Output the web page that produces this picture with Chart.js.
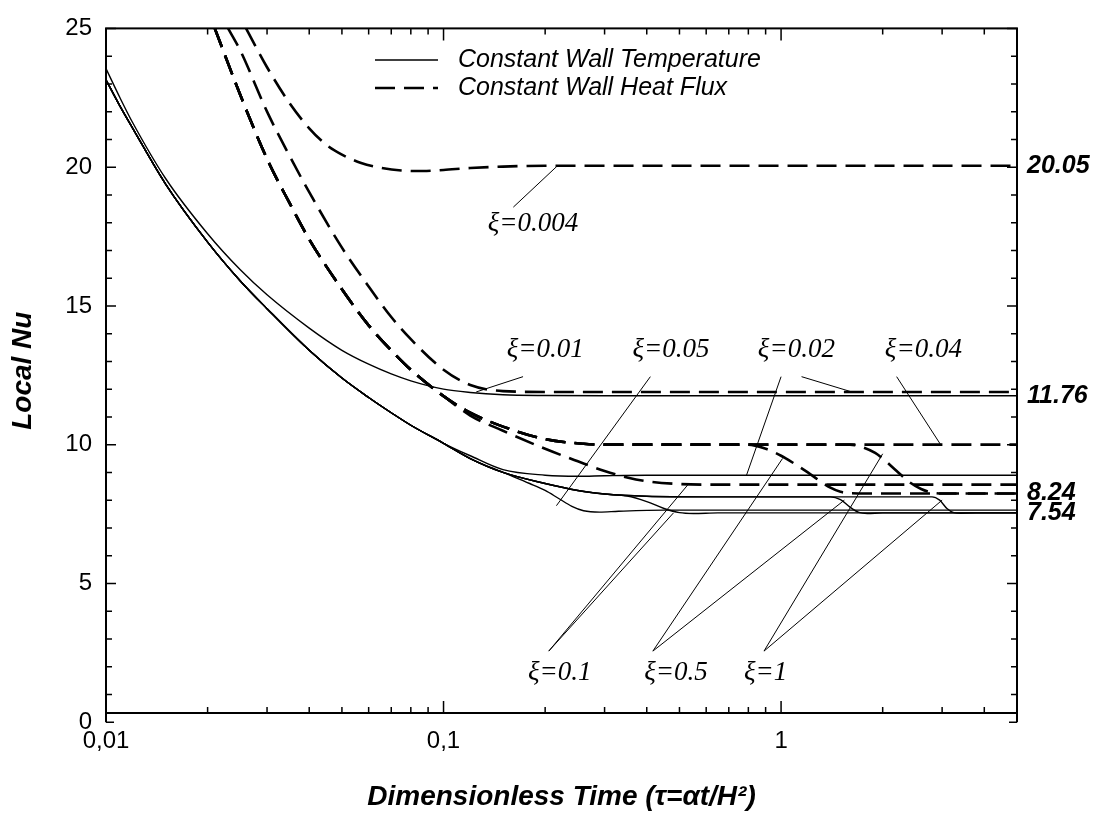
<!DOCTYPE html>
<html>
<head>
<meta charset="utf-8">
<title>Local Nu</title>
<script src="https://cdn.jsdelivr.net/npm/chart.js@4.4.1/dist/chart.umd.min.js"></script>
<style>
  html, body { margin: 0; padding: 0; background: #fff; }
  #nuChart { display: block; }
</style>
</head>
<body>
<canvas id="nuChart" width="1101" height="816"></canvas>
<script>
// Axis ranges and tick values
const tauMin = 0.01;
const tauMax = 5;
const nuMin = 0.33;
const nuMax = 25;
const xMajorTicks = [0.01, 0.1, 1];
const xTickLabels = ['0,01', '0,1', '1'];
const xMinorTicks = [0.02, 0.03, 0.04, 0.05, 0.06, 0.07, 0.08, 0.09, 0.2, 0.3, 0.4, 0.5, 0.6, 0.7, 0.8, 0.9, 2, 3, 4];
const yMajorTicks = [0, 5, 10, 15, 20, 25];
const yMinorTicks = [1, 2, 3, 4, 6, 7, 8, 9, 11, 12, 13, 14, 16, 17, 18, 19, 21, 22, 23, 24];
const limitTicks = [20.05, 11.76, 8.24, 7.54];
const limitLabels = ['20.05', '11.76', '8.24', '7.54'];

// Constant wall temperature (solid)
const tauT001 = [0.01, 0.011, 0.012, 0.015, 0.02, 0.025, 0.03, 0.04, 0.05, 0.06, 0.07, 0.08, 0.1, 0.12, 0.15, 0.2, 0.3, 5];
const nuT001 = [23.55, 22.5, 21.6, 19.6, 17.6, 16.3, 15.4, 14.2, 13.4, 12.9, 12.55, 12.3, 12.0, 11.88, 11.8, 11.77, 11.76, 11.76];
const tauT002 = [0.01, 0.011, 0.012, 0.015, 0.02, 0.025, 0.03, 0.04, 0.05, 0.06, 0.07, 0.08, 0.1, 0.12, 0.15, 0.2, 0.25, 0.3, 0.4, 5];
const nuT002 = [23.15, 22.2, 21.4, 19.4, 17.3, 15.9, 14.9, 13.4, 12.4, 11.7, 11.15, 10.7, 10.05, 9.6, 9.1, 8.9, 8.86, 8.88, 8.9, 8.9];
const tauT005 = [0.01, 0.011, 0.012, 0.015, 0.02, 0.025, 0.03, 0.04, 0.05, 0.06, 0.07, 0.08, 0.1, 0.12, 0.15, 0.18, 0.2, 0.22, 0.24, 0.26, 0.29, 0.33, 0.45, 5];
const nuT005 = [23.15, 22.2, 21.4, 19.4, 17.3, 15.9, 14.9, 13.4, 12.4, 11.7, 11.15, 10.7, 10.05, 9.5, 9.0, 8.6, 8.35, 8.05, 7.78, 7.62, 7.57, 7.6, 7.64, 7.64];
const tauT01 = [0.01, 0.011, 0.012, 0.015, 0.02, 0.025, 0.03, 0.04, 0.05, 0.06, 0.07, 0.08, 0.1, 0.12, 0.15, 0.2, 0.25, 0.3, 0.35, 0.4, 0.45, 0.5, 0.55, 0.65, 5];
const nuT01 = [23.15, 22.2, 21.4, 19.4, 17.3, 15.9, 14.9, 13.4, 12.4, 11.7, 11.15, 10.7, 10.05, 9.5, 9.0, 8.6, 8.35, 8.22, 8.15, 7.95, 7.7, 7.55, 7.52, 7.54, 7.54];
const tauT05 = [0.01, 0.011, 0.012, 0.015, 0.02, 0.025, 0.03, 0.04, 0.05, 0.06, 0.07, 0.08, 0.1, 0.12, 0.15, 0.2, 0.25, 0.3, 0.4, 0.6, 1.0, 1.4, 1.5, 1.6, 1.7, 1.8, 2, 5];
const nuT05 = [23.15, 22.2, 21.4, 19.4, 17.3, 15.9, 14.9, 13.4, 12.4, 11.7, 11.15, 10.7, 10.05, 9.5, 9.0, 8.6, 8.35, 8.22, 8.14, 8.12, 8.12, 8.12, 8.02, 7.75, 7.56, 7.52, 7.54, 7.54];
const tauT1 = [0.01, 0.011, 0.012, 0.015, 0.02, 0.025, 0.03, 0.04, 0.05, 0.06, 0.07, 0.08, 0.1, 0.12, 0.15, 0.2, 0.25, 0.3, 0.4, 0.6, 1.0, 2.0, 2.8, 2.95, 3.1, 3.25, 3.4, 3.8, 5];
const nuT1 = [23.15, 22.2, 21.4, 19.4, 17.3, 15.9, 14.9, 13.4, 12.4, 11.7, 11.15, 10.7, 10.05, 9.5, 9.0, 8.6, 8.35, 8.22, 8.14, 8.12, 8.12, 8.12, 8.12, 8.0, 7.7, 7.55, 7.53, 7.54, 7.54];

// Constant wall heat flux (dashed)
const tauQ0004 = [0.026, 0.03, 0.035, 0.04, 0.045, 0.05, 0.057, 0.065, 0.075, 0.087, 0.1, 0.12, 0.15, 0.2, 5];
const nuQ0004 = [25, 23.6, 22.3, 21.4, 20.8, 20.45, 20.15, 19.98, 19.88, 19.86, 19.9, 19.97, 20.02, 20.05, 20.05];
const tauQ002 = [0.023, 0.025, 0.03, 0.035, 0.04, 0.05, 0.06, 0.07, 0.08, 0.1, 0.12, 0.15, 0.2, 5];
const nuQ002 = [25, 24.2, 22.0, 20.4, 19.1, 17.1, 15.7, 14.6, 13.8, 12.7, 12.15, 11.93, 11.9, 11.9];
const tauQ004 = [0.021, 0.025, 0.03, 0.035, 0.04, 0.05, 0.06, 0.07, 0.08, 0.1, 0.12, 0.15, 0.2, 0.26, 0.3, 5];
const nuQ004 = [25, 22.6, 20.3, 18.7, 17.4, 15.6, 14.3, 13.4, 12.7, 11.75, 11.15, 10.65, 10.2, 10.03, 10.0, 10.0];
const tauQ01 = [0.021, 0.025, 0.03, 0.035, 0.04, 0.05, 0.06, 0.07, 0.08, 0.1, 0.12, 0.15, 0.2, 0.25, 0.3, 0.35, 0.4, 0.5, 0.6, 5];
const nuQ01 = [25, 22.6, 20.3, 18.7, 17.4, 15.6, 14.3, 13.4, 12.7, 11.75, 11.05, 10.5, 9.85, 9.4, 9.05, 8.82, 8.68, 8.58, 8.56, 8.56];
const tauQ05 = [0.021, 0.025, 0.03, 0.035, 0.04, 0.05, 0.06, 0.07, 0.08, 0.1, 0.12, 0.15, 0.2, 0.26, 0.3, 0.8, 0.9, 1.0, 1.1, 1.2, 1.3, 1.4, 1.5, 1.6, 1.8, 5];
const nuQ05 = [25, 22.6, 20.3, 18.7, 17.4, 15.6, 14.3, 13.4, 12.7, 11.75, 11.15, 10.65, 10.2, 10.03, 10.0, 10.0, 9.85, 9.6, 9.3, 9.0, 8.7, 8.45, 8.3, 8.25, 8.24, 8.24];
const tauQ1 = [0.021, 0.025, 0.03, 0.035, 0.04, 0.05, 0.06, 0.07, 0.08, 0.1, 0.12, 0.15, 0.2, 0.26, 0.3, 1.6, 1.75, 1.9, 2.0, 2.2, 2.4, 2.6, 2.8, 3.0, 5];
const nuQ1 = [25, 22.6, 20.3, 18.7, 17.4, 15.6, 14.3, 13.4, 12.7, 11.75, 11.15, 10.65, 10.2, 10.03, 10.0, 10.0, 9.9, 9.7, 9.5, 9.05, 8.65, 8.4, 8.27, 8.24, 8.24];

// Curve labels: text, anchor (tau, Nu) and leader lines [fromTau, fromNu, toTau, toNu]
const noteTexts = ['ξ=0.004', 'ξ=0.01', 'ξ=0.05', 'ξ=0.02', 'ξ=0.04', 'ξ=0.1', 'ξ=0.5', 'ξ=1'];
const notePos = [[0.184, 17.96], [0.2, 13.41], [0.472, 13.41], [1.11, 13.41], [2.64, 13.41], [0.221, 1.78], [0.488, 1.78], [0.9, 1.78]];
const noteLeaders = [
  [[0.161, 18.56, 0.218, 20.06]],
  [[0.172, 12.45, 0.125, 11.9]],
  [[0.41, 12.45, 0.216, 7.8]],
  [[1.0, 12.45, 0.79, 8.9], [1.15, 12.45, 1.62, 11.9]],
  [[2.2, 12.45, 2.97, 10.0]],
  [[0.205, 2.56, 0.53, 8.56], [0.205, 2.56, 0.48, 7.54]],
  [[0.417, 2.56, 1.01, 9.5], [0.417, 2.56, 1.54, 8.0]],
  [[0.89, 2.56, 2.0, 9.67], [0.89, 2.56, 3.0, 8.0]]
];

const legendTexts = ['Constant Wall Temperature', 'Constant Wall Heat Flux'];

const DASH = [20, 9];

document.addEventListener('DOMContentLoaded', () => {
  const canvas = document.getElementById('nuChart');
  createNusseltChart(canvas);
});

function toPoints(taus, nus) {
  return taus.map((t, i) => ({ x: t, y: nus[i] }));
}

function solidSet(taus, nus) {
  return {
    data: toPoints(taus, nus),
    borderColor: '#000',
    borderWidth: 1.4,
    pointRadius: 0,
    fill: false,
    cubicInterpolationMode: 'monotone'
  };
}

function dashedSet(taus, nus) {
  return {
    data: toPoints(taus, nus),
    borderColor: '#000',
    borderWidth: 2.6,
    borderDash: DASH,
    pointRadius: 0,
    fill: false,
    cubicInterpolationMode: 'monotone'
  };
}

// Frame, inward ticks, legend and curve labels
const decorations = {
  id: 'decorations',
  afterDatasetsDraw(chart) {
    const { ctx, chartArea: a, scales } = chart;
    const x = scales.x;
    const y = scales.y;
    ctx.save();
    ctx.strokeStyle = '#000';
    ctx.lineCap = 'butt';

    // frame
    ctx.lineWidth = 2;
    ctx.strokeRect(a.left, a.top, a.right - a.left, a.bottom - a.top);
    const y0 = y.getPixelForValue(0);
    ctx.beginPath();
    ctx.moveTo(a.left, a.bottom); ctx.lineTo(a.left, y0);
    ctx.moveTo(a.right, a.bottom); ctx.lineTo(a.right, y0);
    ctx.stroke();

    // ticks
    ctx.lineWidth = 1.5;
    ctx.beginPath();
    const xTick = (v, len) => {
      const px = x.getPixelForValue(v);
      ctx.moveTo(px, a.bottom); ctx.lineTo(px, a.bottom - len);
      ctx.moveTo(px, a.top); ctx.lineTo(px, a.top + len);
    };
    const yTick = (v, len) => {
      const py = y.getPixelForValue(v);
      ctx.moveTo(a.left, py); ctx.lineTo(a.left + len, py);
      ctx.moveTo(a.right, py); ctx.lineTo(a.right - len, py);
    };
    xMajorTicks.forEach(v => xTick(v, 12));
    xMinorTicks.forEach(v => xTick(v, 6));
    yMajorTicks.forEach(v => yTick(v, v === 0 ? 8 : 10));
    yMinorTicks.forEach(v => yTick(v, 6));
    ctx.stroke();

    // legend
    const legendY = [60, 88];
    ctx.font = 'italic 25px "Liberation Sans", Arial, sans-serif';
    ctx.fillStyle = '#000';
    ctx.textBaseline = 'middle';
    ctx.textAlign = 'left';
    legendTexts.forEach((t, i) => {
      ctx.beginPath();
      ctx.lineWidth = i === 0 ? 1.4 : 2.6;
      ctx.setLineDash(i === 0 ? [] : DASH);
      ctx.moveTo(375, legendY[i]);
      ctx.lineTo(438, legendY[i]);
      ctx.stroke();
      ctx.setLineDash([]);
      ctx.fillText(t, 458, legendY[i]);
    });

    // curve labels with leader lines
    ctx.lineWidth = 1;
    ctx.beginPath();
    noteLeaders.forEach(list => {
      list.forEach(l => {
        ctx.moveTo(x.getPixelForValue(l[0]), y.getPixelForValue(l[1]));
        ctx.lineTo(x.getPixelForValue(l[2]), y.getPixelForValue(l[3]));
      });
    });
    ctx.stroke();
    ctx.font = 'italic 27px "Liberation Serif", "Times New Roman", serif';
    ctx.textAlign = 'center';
    noteTexts.forEach((t, i) => {
      const p = notePos[i];
      ctx.fillText(t, x.getPixelForValue(p[0]), y.getPixelForValue(p[1]));
    });
    ctx.restore();
  }
};

function createNusseltChart(canvas) {
  const ctx = canvas.getContext('2d');
  const tickFont = { family: '"Liberation Sans", Arial, sans-serif', size: 24 };

  return new Chart(ctx, {
    type: 'line',
    data: {
      datasets: [
        solidSet(tauT001, nuT001),
        solidSet(tauT002, nuT002),
        solidSet(tauT005, nuT005),
        solidSet(tauT01, nuT01),
        solidSet(tauT05, nuT05),
        solidSet(tauT1, nuT1),
        dashedSet(tauQ0004, nuQ0004),
        dashedSet(tauQ002, nuQ002),
        dashedSet(tauQ004, nuQ004),
        dashedSet(tauQ01, nuQ01),
        dashedSet(tauQ05, nuQ05),
        dashedSet(tauQ1, nuQ1)
      ]
    },
    options: {
      responsive: false,
      devicePixelRatio: 1,
      animation: false,
      layout: { padding: { top: 19.3, left: 0, right: 0, bottom: 0 } },
      plugins: {
        legend: { display: false },
        tooltip: { enabled: false }
      },
      scales: {
        x: {
          type: 'logarithmic',
          min: tauMin,
          max: tauMax,
          afterBuildTicks: (s) => { s.ticks = xMajorTicks.map(v => ({ value: v })); },
          afterFit: (s) => { s.height = 103; },
          grid: { display: false, drawTicks: false },
          border: { display: false },
          ticks: {
            color: '#000',
            font: tickFont,
            padding: 14,
            maxRotation: 0,
            autoSkip: false,
            callback: function(value) {
              const i = xMajorTicks.findIndex(v => Math.abs(v - value) < 1e-9);
              return i >= 0 ? xTickLabels[i] : '';
            }
          },
          title: {
            display: true,
            text: 'Dimensionless Time (τ=αt/H²)',
            color: '#000',
            font: { family: '"Liberation Sans", Arial, sans-serif', size: 28, weight: 'bold', style: 'italic' },
            padding: { top: 0, bottom: 2 }
          }
        },
        y: {
          type: 'linear',
          min: nuMin,
          max: nuMax,
          afterBuildTicks: (s) => { s.ticks = yMajorTicks.map(v => ({ value: v })); },
          afterFit: (s) => { s.width = 106; },
          grid: { display: false, drawTicks: false },
          border: { display: false },
          ticks: { color: '#000', font: tickFont, padding: 14 },
          title: {
            display: true,
            text: 'Local Nu',
            color: '#000',
            font: { family: '"Liberation Sans", Arial, sans-serif', size: 28, weight: 'bold', style: 'italic' },
            padding: { top: 6, bottom: 0 }
          }
        },
        y2: {
          type: 'linear',
          position: 'right',
          min: nuMin,
          max: nuMax,
          afterBuildTicks: (s) => { s.ticks = limitTicks.map(v => ({ value: v })); },
          afterFit: (s) => { s.width = 84; },
          grid: { display: false, drawTicks: false },
          border: { display: false },
          ticks: {
            color: '#000',
            font: { family: '"Liberation Sans", Arial, sans-serif', size: 25, weight: 'bold', style: 'italic' },
            padding: 10,
            callback: function(value) {
              const i = limitTicks.findIndex(v => Math.abs(v - value) < 1e-9);
              return i >= 0 ? limitLabels[i] : '';
            }
          }
        }
      }
    },
    plugins: [decorations]
  });
}
</script>
</body>
</html>
